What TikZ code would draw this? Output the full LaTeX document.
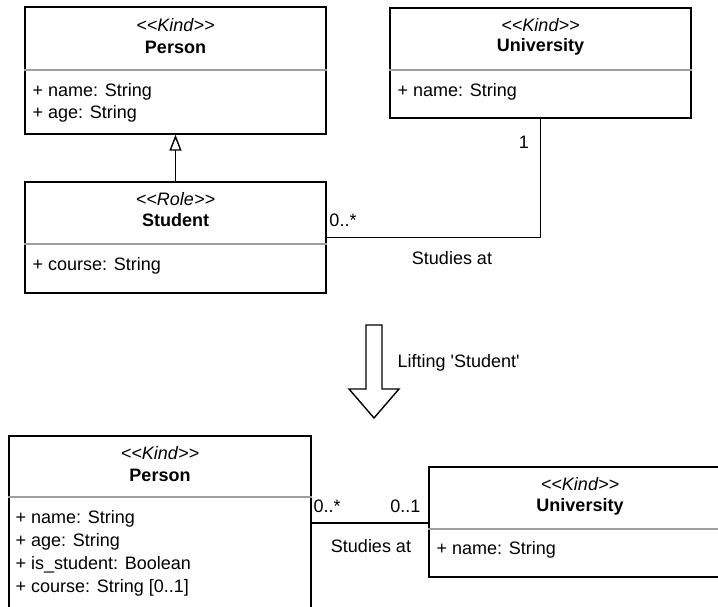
\documentclass[tikz,border=0pt]{standalone}
\usepackage{fontspec}
\setmainfont{Liberation Sans}[Ligatures=TeXOff]
\usetikzlibrary{arrows.meta}

\begin{document}
\begin{tikzpicture}[x=1pt, y=-1pt, line width=1.4pt]
  \tikzset{
    classbox/.style = {draw, rectangle, inner sep=0pt},
    divider/.style = {draw=black!38, line width=1.4pt},
    stereo/.style = {font=\fontsize{18}{22}\selectfont\itshape, inner sep=0pt},
    cname/.style = {font=\fontsize{18}{22}\selectfont\bfseries, inner sep=0pt},
    attr/.style = {font=\fontsize{18}{22}\selectfont, anchor=west, inner sep=0pt},
    mult/.style = {font=\fontsize{18}{22}\selectfont, inner sep=0pt},
    inherit/.style = {-{Triangle[open, width=12pt, length=16pt]}},
  }
  \useasboundingbox (0,0) rectangle (718,607);
  \clip (0,0) rectangle (718,607);

  % model before lifting
  \node[classbox, minimum width=301pt, minimum height=127pt] (personA) at (175.5,70.5) {};
  \draw[divider] (personA.west |- 0,70) -- (personA.east |- 0,70);
  \node[stereo] (personAk) at (175.5,25) {<<Kind>>};
  \node[cname] (personAn) at (175.5,47) {Person};
  \foreach \t [count=\i] in {+ name: String, + age: String}{
    \node[attr] (personAa\i) at (32,92+22*\i-22) {\t};
  }

  \node[classbox, minimum width=301pt, minimum height=111pt] (studentA) at (175.5,237.5) {};
  \draw[divider] (studentA.west |- 0,244) -- (studentA.east |- 0,244);
  \node[stereo] (studentAk) at (175.5,199) {<<Role>>};
  \node[cname] (studentAn) at (175.5,220) {Student};
  \node[attr] (studentAa1) at (32,266) {+ course: String};

  \node[classbox, minimum width=301pt, minimum height=110pt] (univA) at (540.5,63) {};
  \draw[divider] (univA.west |- 0,70) -- (univA.east |- 0,70);
  \node[stereo] (univAk) at (540.5,25) {<<Kind>>};
  \node[cname] (univAn) at (540.5,47) {University};
  \node[attr] (univAa1) at (397,92) {+ name: String};

  \path[draw, inherit] (studentA.north) -- (personA.south);
  \draw (studentA.east) -| (univA.south);
  \node[mult] (multA1) at (343,220) {0..*};
  \node[mult] (multA2) at (524,142) {1};
  \node[mult] (assocA) at (452,258) {Studies at};

  % lifting step
  \draw (366,325) -- (382,325) -- (382,389) -- (399,389) -- (374,418)
        -- (349,389) -- (366,389) -- cycle;
  \node[attr] (lifting) at (397,363) {Lifting 'Student'};

  % model after lifting
  \node[classbox, minimum width=302pt, minimum height=194pt] (personB) at (160,533) {};
  \draw[divider] (personB.west |- 0,497) -- (personB.east |- 0,497);
  \node[stereo] (personBk) at (160,453) {<<Kind>>};
  \node[cname] (personBn) at (160,475) {Person};
  \foreach \t [count=\i] in {+ name: String, + age: String,
                             + is\_student: Boolean, + course: String [0..1]}{
    \node[attr] (personBa\i) at (15,519+23*\i-23) {\t};
  }

  \node[classbox, minimum width=302pt, minimum height=110pt] (univB) at (580,522) {};
  \draw[divider] (univB.west |- 0,529) -- (univB.east |- 0,529);
  \node[stereo] (univBk) at (580,484) {<<Kind>>};
  \node[cname] (univBn) at (580,507) {University};
  \node[attr] (univBa1) at (436,550) {+ name: String};

  \draw (personB.east |- 0,523) -- (univB.west |- 0,523);
  \node[mult, anchor=west] (multB1) at (313,506) {0..*};
  \node[mult, anchor=east] (multB2) at (421,506) {0..1};
  \node[mult] (assocB) at (371,546) {Studies at};
\end{tikzpicture}
\end{document}
